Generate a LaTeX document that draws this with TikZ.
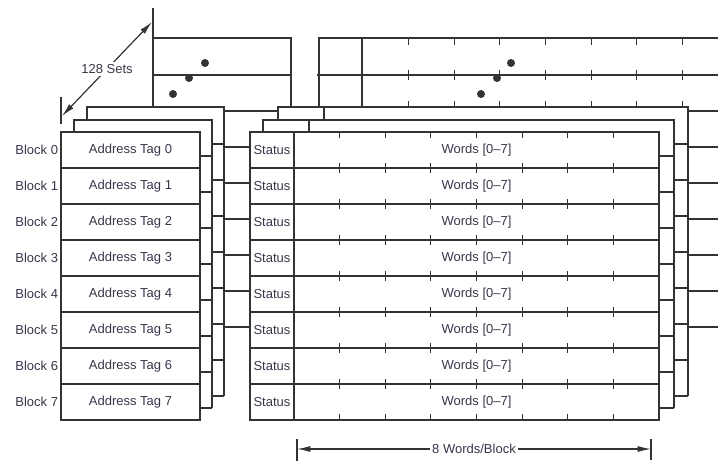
\documentclass[tikz,border=0pt]{standalone}
\usepackage{fontspec}
\setmainfont{Liberation Sans}
\usepackage{tikz}
\usetikzlibrary{arrows.meta}
\definecolor{linegray}{RGB}{51,51,51}
\definecolor{textgray}{RGB}{55,55,75}

\begin{document}
\begin{tikzpicture}[
    x=0.75pt, y=-0.75pt,
    color=linegray, line width=0.9pt,
    every node/.style={font=\fontsize{9.75}{11}\selectfont, text=textgray, inner sep=0pt, outer sep=0pt},
    blocklabel/.style={anchor=east},
    tagbox/.style={rectangle, draw=linegray, minimum width=104.25pt, minimum height=27pt},
    statusbox/.style={rectangle, draw=linegray, minimum width=33pt, minimum height=27pt},
    wordsbox/.style={rectangle, draw=linegray, minimum width=273.75pt, minimum height=27pt},
    dimarrow/.style={{Latex[length=10pt,width=4.5pt]}-{Latex[length=10pt,width=4.5pt]}},
    dimlabel/.style={fill=white, inner sep=2pt}
]
    \useasboundingbox (0,0) rectangle (718,461);

    % Far set (set 127)
    \draw (153,8) -- (153,107);
    \draw (153,38) -- (291,38) -- (291,107);
    \draw (152,75) -- (291,75);
    \draw (719,38) -- (319,38) -- (319,107);
    \draw (362,38) -- (362,107);
    \draw (317,75) -- (719,75);
    \foreach \k in {0,...,6} {
        \draw (408.6+45.625*\k,38) -- ++(0,7);
        \draw (408.6+45.625*\k,70) -- ++(0,10);
        \draw (408.6+45.625*\k,101) -- ++(0,6);
    }
    \foreach \p in {(205,63),(189,78),(173,94),(511,63),(497,78),(481,94)}
        \fill \p circle[radius=3pt];

    % Back layers
    \draw (87,120) -- (87,107) -- (224,107) -- (224,396);
    \draw (74,132) -- (74,120) -- (212,120) -- (212,408);
    \draw (278,120) -- (278,107) -- (688,107) -- (688,396);
    \draw (324,107) -- (324,120);
    \draw (263,132) -- (263,120) -- (674,120) -- (674,408);
    \draw (309,120) -- (309,132);
    \foreach \k in {0,...,7} {
        \draw (200,156+36*\k) -- (212,156+36*\k);
        \draw (212,144+36*\k) -- (224,144+36*\k);
        \draw (659,156+36*\k) -- (674,156+36*\k);
        \draw (674,144+36*\k) -- (688,144+36*\k);
    }
    \draw (224,111) -- (278,111);
    \foreach \k in {0,...,5}
        \draw (224,147+36*\k) -- (250,147+36*\k);
    \foreach \k in {0,...,6}
        \draw (688,111+36*\k) -- (719,111+36*\k);

    % Front set
    \foreach \i in {0,...,7} {
        \node[blocklabel] (block\i) at (58,150+36*\i) {Block \i};
        \node[tagbox] (tag\i) at (130.5,150+36*\i) {Address Tag \i};
        \node[statusbox] (status\i) at (272,150+36*\i) {Status};
        \node[wordsbox] (words\i) at (476.5,150+36*\i) {Words [0--7]};
    }
    \draw[line width=1.6pt] (tag3.south west) -- (tag3.south east);
    \foreach \k in {1,...,7} {
        \draw (294+45.625*\k,132) -- ++(0,6);
        \draw (294+45.625*\k,414) -- ++(0,6);
        \foreach \r in {1,...,7}
            \draw (294+45.625*\k,127+36*\r) -- ++(0,10);
    }

    % Dimensions
    \draw (61,97) -- (61,124);
    \coordinate (setsfront) at (62,116);
    \coordinate (setsback) at (152,22);
    \draw[dimarrow] (setsfront) -- node[dimlabel] (setslabel) {128 Sets} (setsback);

    \coordinate (wordsleft) at (297,449);
    \coordinate (wordsright) at (651,449);
    \draw (297,439) -- (297,461);
    \draw (651,439) -- (651,460);
    \draw[dimarrow] (wordsleft) -- node[dimlabel] (wordslabel) {8 Words/Block} (wordsright);
\end{tikzpicture}
\end{document}
